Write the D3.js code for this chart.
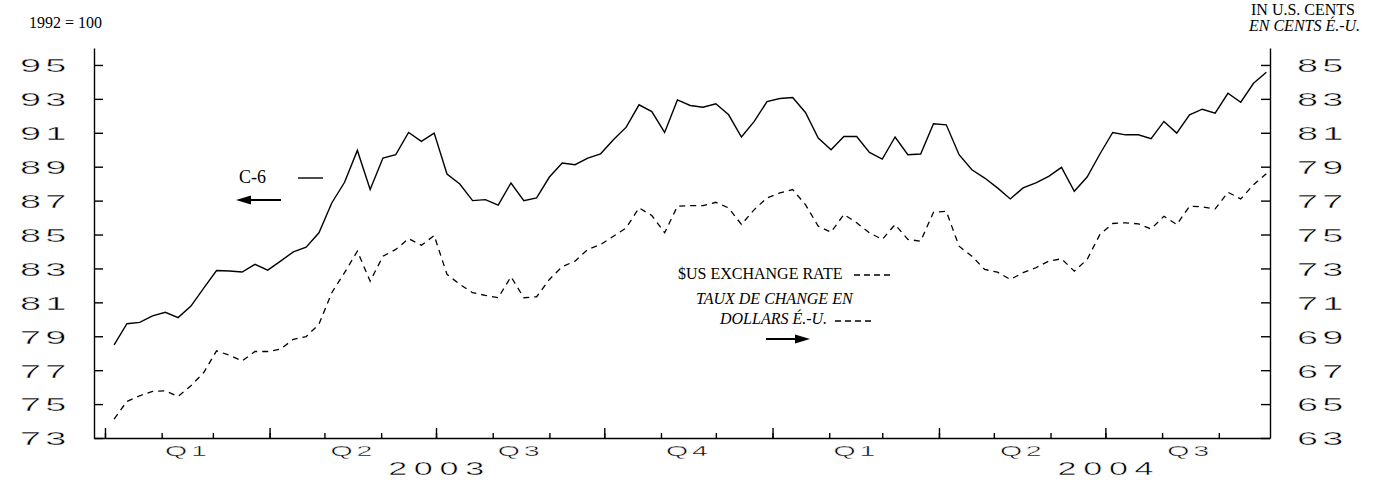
<!DOCTYPE html>
<meta charset="utf-8">
<style>

body { margin: 0; background: #fff; }
svg { display: block; }

.axis path, .axis line {
  stroke: #000;
  stroke-width: 1.4px;
}

/* wide, thin figures: stretched sideways, edges trimmed with a white stroke */
.stretch text {
  font: 19px "Liberation Sans", Arial, sans-serif;
  letter-spacing: 2px;
  fill: #000;
  stroke: #fff;
  stroke-width: 0.4px;
}

.note {
  font-family: "Liberation Serif", "Times New Roman", serif;
  font-size: 16px;
  fill: #000;
}

</style>
<svg class="chart" width="1377" height="480"></svg>
<script src="https://d3js.org/d3.v7.min.js"></script>
<script>

// weekly observations, first one on Jan 6 2003
var firstWeek = new Date(2003, 0, 6);

// C-6 index, 1992 = 100 (left scale)
var c6Index = [
  78.49, 79.74, 79.82, 80.20, 80.41, 80.10, 80.78, 81.84, 82.88, 82.85,
  82.79, 83.24, 82.90, 83.43, 83.98, 84.25, 85.10, 86.86, 88.08, 89.96,
  87.65, 89.51, 89.71, 91.02, 90.49, 90.98, 88.57, 87.98, 87.00, 87.06,
  86.73, 88.04, 87.00, 87.16, 88.39, 89.22, 89.12, 89.51, 89.76, 90.59,
  91.33, 92.65, 92.25, 91.02, 92.94, 92.61, 92.51, 92.71, 92.06, 90.75,
  91.67, 92.84, 93.02, 93.08, 92.20, 90.69, 90.00, 90.78, 90.78, 89.84,
  89.45, 90.75, 89.71, 89.75, 91.53, 91.47, 89.71, 88.82, 88.33, 87.75,
  87.10, 87.75, 88.04, 88.43, 88.96, 87.55, 88.39, 89.75, 91.02, 90.88,
  90.88, 90.65, 91.67, 90.98, 92.06, 92.39, 92.16, 93.33, 92.80, 93.92,
  94.57
];

// $US exchange rate in U.S. cents (right scale)
var usdRate = [
  64.12, 65.16, 65.49, 65.75, 65.78, 65.45, 66.08, 66.86, 68.14, 67.88,
  67.55, 68.10, 68.10, 68.24, 68.82, 68.98, 69.71, 71.57, 72.75, 74.02,
  72.25, 73.72, 74.12, 74.76, 74.37, 74.94, 72.65, 72.06, 71.57, 71.41,
  71.27, 72.51, 71.27, 71.33, 72.35, 73.10, 73.43, 74.12, 74.41, 74.90,
  75.39, 76.57, 76.12, 75.10, 76.67, 76.71, 76.71, 76.90, 76.57, 75.59,
  76.47, 77.16, 77.45, 77.65, 76.76, 75.49, 75.14, 76.18, 75.69, 75.10,
  74.71, 75.59, 74.71, 74.61, 76.31, 76.37, 74.31, 73.72, 72.94, 72.78,
  72.35, 72.75, 73.04, 73.43, 73.57, 72.84, 73.53, 75.00, 75.65, 75.69,
  75.63, 75.33, 76.08, 75.59, 76.67, 76.63, 76.51, 77.49, 77.10, 77.94,
  78.59
];

var leftTicks = [73, 75, 77, 79, 81, 83, 85, 87, 89, 91, 93, 95];
var rightTicks = [63, 65, 67, 69, 71, 73, 75, 77, 79, 81, 83, 85];
var quarterLabels = ["Q1", "Q2", "Q3", "Q4", "Q1", "Q2", "Q3"];
var yearLabels = ["2003", "2004"];

var weeks = c6Index.map(function(d, i) { return d3.timeDay.offset(firstWeek, i * 7); });

var plotLeft = 94, plotRight = 1270, plotTop = 48, plotBottom = 438;

var x = d3.scaleTime()
    .domain([new Date(2002, 11, 26), new Date(2004, 8, 29)])
    .range([plotLeft, plotRight]);

var yL = d3.scaleLinear().domain([73, 96]).range([plotBottom, plotTop]);
var yR = d3.scaleLinear().domain([63, 86]).range([plotBottom, plotTop]);

var svg = d3.select(".chart");

// axes
var gL = svg.append("g")
    .attr("class", "axis stretch")
    .attr("transform", "translate(" + plotLeft + ",0)")
    .call(d3.axisLeft(yL).tickValues(leftTicks).tickSize(-9).tickSizeOuter(0));
gL.selectAll("text")
    .attr("x", 0).attr("dy", "0.36em")
    .style("text-anchor", "start")
    .attr("transform", "translate(-74,0) scale(2,1)");

var gR = svg.append("g")
    .attr("class", "axis stretch")
    .attr("transform", "translate(" + plotRight + ",0)")
    .call(d3.axisRight(yR).tickValues(rightTicks).tickSize(-9).tickSizeOuter(0));
gR.selectAll("text")
    .attr("x", 0).attr("dy", "0.36em")
    .style("text-anchor", "start")
    .attr("transform", "translate(27,0) scale(2,1)");

var months = d3.timeMonth.range(new Date(2003, 0, 1), new Date(2004, 9, 1));
var quarterStarts = months.filter(function(d) { return d.getMonth() % 3 == 0; });

svg.append("g")
    .attr("class", "axis")
    .attr("transform", "translate(0," + plotBottom + ")")
    .call(d3.axisBottom(x).tickValues(months).tickSize(-5).tickSizeOuter(0).tickFormat(""));

svg.append("g")
    .attr("class", "axis")
    .attr("transform", "translate(0," + plotBottom + ")")
    .call(d3.axisBottom(x).tickValues(quarterStarts).tickSize(-10).tickSizeOuter(0).tickFormat(""))
    .select(".domain").remove();

var quarterMid = quarterStarts.map(function(d) {
  return new Date((+d + +d3.timeMonth.offset(d, 3)) / 2);
});

var gQ = svg.append("g")
    .attr("class", "axis stretch")
    .attr("transform", "translate(0," + plotBottom + ")")
    .call(d3.axisBottom(x).tickValues(quarterMid).tickSize(0)
        .tickFormat(function(d, i) { return quarterLabels[i]; }));
gQ.select(".domain").remove();
gQ.selectAll("text")
    .attr("y", 18).attr("dy", 0)
    .style("font-size", "15px")
    .attr("transform", "scale(1.9,1)");

var gY = svg.append("g")
    .attr("class", "axis stretch")
    .attr("transform", "translate(0," + plotBottom + ")")
    .call(d3.axisBottom(x).tickValues([new Date(2003, 6, 1), new Date(2004, 6, 1)]).tickSize(0)
        .tickFormat(function(d, i) { return yearLabels[i]; }));
gY.select(".domain").remove();
gY.selectAll("text")
    .attr("y", 37).attr("dy", 0)
    .style("font-size", "18px")
    .style("letter-spacing", "3.5px")
    .attr("transform", "translate(3,0) scale(1.9,1)");

// series
var lineL = d3.line()
    .x(function(d, i) { return x(weeks[i]); })
    .y(function(d) { return yL(d); });
var lineR = d3.line()
    .x(function(d, i) { return x(weeks[i]); })
    .y(function(d) { return yR(d); });

svg.append("path")
    .datum(c6Index)
    .attr("d", lineL)
    .attr("fill", "none")
    .attr("stroke", "#000")
    .attr("stroke-width", 1.4);

svg.append("path")
    .datum(usdRate)
    .attr("d", lineR)
    .attr("fill", "none")
    .attr("stroke", "#000")
    .attr("stroke-width", 1.3)
    .attr("stroke-dasharray", "6,5");

// captions
svg.append("text").attr("class", "note").attr("x", 29).attr("y", 28).text("1992 = 100");
svg.append("text").attr("class", "note").attr("x", 1251).attr("y", 15).text("IN U.S. CENTS");
svg.append("text").attr("class", "note").attr("x", 1249).attr("y", 31)
    .style("font-style", "italic").text("EN CENTS É.-U.");

// legend: C-6
svg.append("text").attr("class", "note").attr("x", 239).attr("y", 183)
    .style("font-size", "18px").text("C-6");
svg.append("line").attr("x1", 298).attr("x2", 323).attr("y1", 178).attr("y2", 178)
    .attr("stroke", "#000").attr("stroke-width", 1.4);

function arrow(x0, x1, yy) {
  var dir = x1 > x0 ? 1 : -1;
  svg.append("line")
      .attr("x1", x0).attr("x2", x1 - dir * 12).attr("y1", yy).attr("y2", yy)
      .attr("stroke", "#000").attr("stroke-width", 2);
  svg.append("path")
      .attr("d", "M" + x1 + "," + yy + "L" + (x1 - dir * 15) + "," + (yy - 4.5) +
                 "L" + (x1 - dir * 15) + "," + (yy + 4.5) + "Z")
      .attr("fill", "#000");
}
arrow(281, 236, 200);

// legend: exchange rate
svg.append("text").attr("class", "note").attr("x", 678).attr("y", 279).text("$US EXCHANGE RATE");
svg.append("line").attr("x1", 854).attr("x2", 892).attr("y1", 275).attr("y2", 275)
    .attr("stroke", "#000").attr("stroke-width", 1.5).attr("stroke-dasharray", "6,4");
svg.append("text").attr("class", "note").attr("x", 696).attr("y", 304)
    .style("font-style", "italic").text("TAUX DE CHANGE EN");
svg.append("text").attr("class", "note").attr("x", 720).attr("y", 324)
    .style("font-style", "italic").text("DOLLARS É.-U.");
svg.append("line").attr("x1", 835).attr("x2", 873).attr("y1", 321).attr("y2", 321)
    .attr("stroke", "#000").attr("stroke-width", 1.5).attr("stroke-dasharray", "6,4");
arrow(766, 810, 339);

</script>
